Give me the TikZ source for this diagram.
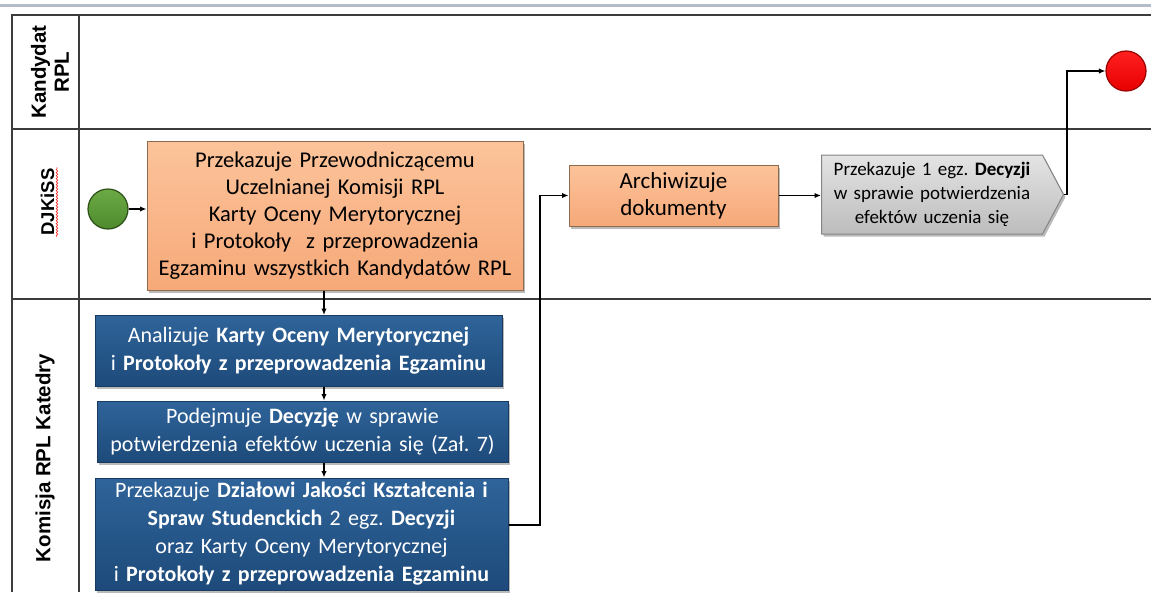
\documentclass[tikz,border=0pt]{standalone}
\usepackage{fontspec}
\setmainfont{Carlito}
\newfontfamily\lanefont{Liberation Sans}
\usetikzlibrary{shapes.symbols,shadows,decorations.pathmorphing,arrows.meta}
\frenchspacing

\definecolor{frameline}{HTML}{3C3C3C}
\definecolor{topband}{HTML}{B4BCC8}
\definecolor{orTop}{HTML}{FCC39A}
\definecolor{orBot}{HTML}{F6A979}
\definecolor{orLine}{HTML}{8C6B4E}
\definecolor{blTop}{HTML}{2F649A}
\definecolor{blBot}{HTML}{1D4A7A}
\definecolor{blLine}{HTML}{163A60}
\definecolor{grTop}{HTML}{E4E4E4}
\definecolor{grBot}{HTML}{BCBCBC}
\definecolor{grLine}{HTML}{858585}
\definecolor{startTop}{HTML}{6BAA45}
\definecolor{startBot}{HTML}{4E8A2E}
\definecolor{startLine}{HTML}{2D5016}
\definecolor{endTop}{HTML}{FF2020}
\definecolor{endBot}{HTML}{E80000}
\definecolor{endLine}{HTML}{9A0000}

\begin{document}
\begin{tikzpicture}[x=1pt,y=-1pt,
  conn/.style={line width=1.4pt,-{Latex[length=6.5pt,width=5.5pt]}},
  boxshadow/.style={drop shadow={shadow xshift=2pt,shadow yshift=-2.5pt,opacity=0.45,fill=black!60}},
  taskbox/.style={boxshadow,align=center,inner sep=0pt,line width=1pt},
  orangebox/.style={taskbox,draw=orLine,top color=orTop,bottom color=orBot,
    font=\fontsize{22.5}{27}\selectfont},
  bluebox/.style={taskbox,draw=blLine,top color=blTop,bottom color=blBot,text=white,
    font=\fontsize{22}{28}\selectfont},
  graysignal/.style={taskbox,draw=grLine,top color=grTop,bottom color=grBot,
    signal,signal to=east,signal pointer angle=124,
    font=\fontsize{19}{24}\selectfont},
  lanelabel/.style={rotate=90,align=center,inner sep=1pt,
    font=\lanefont\bfseries\fontsize{20.5}{23}\selectfont},
  laneline/.style={draw=frameline,line width=1.5pt},
  event/.style={circle,minimum size=40pt,inner sep=0pt,line width=1.2pt}
]
\useasboundingbox[fill=white] (0,0) rectangle (1151,592);

% header rule and swimlane frame
\draw[topband,line width=3pt] (0,5.5) -- (1151,5.5);
\draw[laneline] (1151,15) -- (12,15) -- (12,592);
\draw[laneline] (79,15) -- (79,592);
\draw[laneline] (12,129) -- (1151,129);
\draw[laneline] (12,299) -- (1151,299);

% lane titles
\node[lanelabel] (laneA) at (50,72) {Kandydat\\RPL};
\node[lanelabel,font=\lanefont\bfseries\fontsize{18.5}{22}\selectfont] (laneB) at (47.5,202) {DJKiSS};
\draw[red!85,line width=0.6pt,decorate,decoration={snake,amplitude=0.8pt,segment length=3pt}]
  ([xshift=1.5pt]laneB.south west) -- ([xshift=1.5pt]laneB.south east);
\node[lanelabel] (laneC) at (45,458) {Komisja RPL Katedry};

% events
\node[event,draw=startLine,top color=startTop,bottom color=startBot] (start) at (108,209) {};
\node[event,draw=endLine,top color=endTop,bottom color=endBot] (stop) at (1126,71) {};

% tasks
\node[orangebox,minimum width=376pt,minimum height=149pt,text width=376pt] (hand) at (335,215.5)
  {Przekazuje Przewodniczącemu\\Uczelnianej Komisji RPL\\Karty Oceny Merytorycznej\\i Protokoły\ \ z przeprowadzenia\\Egzaminu wszystkich Kandydatów RPL};
\node[bluebox,minimum width=407pt,minimum height=71pt,text width=407pt] (analyse) at (298.5,351)
  {Analizuje \textbf{Karty Oceny Merytorycznej}\\i \textbf{Protokoły z przeprowadzenia Egzaminu}};
\node[bluebox,minimum width=411pt,minimum height=61pt,text width=411pt] (decide) at (302.5,431.5)
  {Podejmuje \textbf{Decyzję} w sprawie\\potwierdzenia efektów uczenia się (Zał. 7)};
\node[bluebox,minimum width=413pt,minimum height=112pt,text width=413pt] (send) at (301.5,534)
  {Przekazuje \textbf{Działowi Jakości Kształcenia i}\\\textbf{Spraw Studenckich} 2 egz. \textbf{Decyzji}\\oraz Karty Oceny Merytorycznej\\i \textbf{Protokoły z przeprowadzenia Egzaminu}};
\node[orangebox,font=\fontsize{23}{27}\selectfont,minimum width=209pt,minimum height=61pt,text width=209pt] (archive) at (673.5,195.5)
  {Archiwizuje\\dokumenty};
\node[graysignal,minimum width=242pt,minimum height=79pt,text width=215pt] (notify) at (932,194.5)
  {Przekazuje 1 egz. \textbf{Decyzji}\\w sprawie potwierdzenia\\efektów uczenia się};

% connectors
\coordinate (vx) at (324,0);
\coordinate (jA) at (540,525);
\coordinate (jB) at (1067,0);
\draw[conn] (start) -- (start -| hand.west);
\draw[conn] (hand.south -| vx) -- (analyse.north -| vx);
\draw[conn] (analyse.south -| vx) -- (decide.north -| vx);
\draw[conn] (decide.south -| vx) -- (send.north -| vx);
\draw[conn] (send.east |- jA) -- (jA) |- (archive.west);
\draw[conn] (archive.east) -- (archive.east -| notify.west);
\draw[conn] (notify.east) -- (notify.east -| jB) |- (stop.west);
\end{tikzpicture}
\end{document}
